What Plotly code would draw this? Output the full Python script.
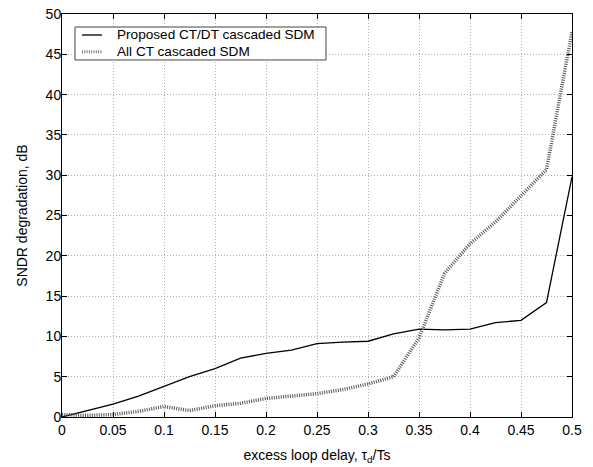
import plotly.graph_objects as go

x_delay = [0, 0.025, 0.05, 0.075, 0.1, 0.125, 0.15, 0.175, 0.2, 0.225, 0.25,
           0.275, 0.3, 0.325, 0.35, 0.375, 0.4, 0.425, 0.45, 0.475, 0.5]
proposed_ctdt = [0.0, 0.8, 1.6, 2.6, 3.85, 5.0, 6.0, 7.3, 7.9, 8.3, 9.1,
                 9.3, 9.4, 10.3, 10.9, 10.8, 10.9, 11.7, 12.0, 14.2, 29.8]
all_ct = [0.3, 0.2, 0.3, 0.7, 1.3, 0.8, 1.4, 1.7, 2.3, 2.6, 2.9,
          3.4, 4.1, 5.0, 9.8, 17.8, 21.5, 24.2, 27.4, 30.7, 47.8]
series_names = ["Proposed CT/DT cascaded SDM", "All CT cascaded SDM"]
x_ticks = [0, 0.05, 0.1, 0.15, 0.2, 0.25, 0.3, 0.35, 0.4, 0.45, 0.5]
x_tick_labels = ["0", "0.05", "0.1", "0.15", "0.2", "0.25", "0.3", "0.35", "0.4", "0.45", "0.5"]
y_ticks = [0, 5, 10, 15, 20, 25, 30, 35, 40, 45, 50]

FONT = "Liberation Sans, Arial, sans-serif"
solid_style = dict(color="black", width=1.3)
dotted_style = dict(color="#555555", width=3.5, dash="1px,1.3px")

fig = go.Figure()
fig.add_trace(go.Scatter(x=x_delay, y=proposed_ctdt, mode="lines",
                         name=series_names[0], line=solid_style, showlegend=False))
fig.add_trace(go.Scatter(x=x_delay, y=all_ct, mode="lines",
                         name=series_names[1], line=dotted_style, showlegend=False))

axis_common = dict(showline=True, linecolor="black", linewidth=1, mirror="ticks",
                   ticks="inside", ticklen=5, tickcolor="black", automargin=False,
                   ticklabeloverflow="allow",
                   showgrid=True, gridcolor="#b0b0b0", griddash="1px,2px", gridwidth=1,
                   zeroline=False, tickfont=dict(family=FONT, size=14, color="black"))

fig.update_xaxes(range=[0, 0.5], tickvals=x_ticks, ticktext=x_tick_labels,
                 title=dict(text="excess loop delay, τ<sub>d</sub>/Ts",
                            font=dict(family=FONT, size=14, color="black"), standoff=13),
                 **axis_common)
fig.update_yaxes(range=[0, 50], tickvals=y_ticks, ticklabelstandoff=-3,
                 title=dict(text="SNDR degradation, dB",
                            font=dict(family=FONT, size=14, color="black"), standoff=14),
                 **axis_common)

# legend box drawn in paper coordinates (MATLAB-style legend)
box = dict(x0=0.0255, x1=0.5176, y0=0.8859, y1=0.9677)
rows_y = [0.9479, 0.9065]
sample_x = (0.0392, 0.0784)
text_x = 0.1039
shapes = [dict(type="rect", xref="paper", yref="paper", **box,
               line=dict(color="#444444", width=1), fillcolor="white", layer="above")]
legend_styles = [solid_style, dict(color="#777777", width=3, dash="1px,1.3px")]
annotations = []
for name, yy, st in zip(series_names, rows_y, legend_styles):
    shapes.append(dict(type="line", xref="paper", yref="paper",
                       x0=sample_x[0], x1=sample_x[1], y0=yy, y1=yy,
                       line=st, layer="above"))
    annotations.append(dict(text=name, xref="paper", yref="paper", x=text_x, y=yy,
                            xanchor="left", yanchor="middle", showarrow=False,
                            font=dict(family=FONT, size=13.6, color="black")))

# page body has an 8px default margin, so the figure is sized to the window minus that
fig.update_layout(
    width=585, height=459,
    margin=dict(l=54, r=21, t=6, b=50, autoexpand=False),
    paper_bgcolor="white", plot_bgcolor="white",
    showlegend=False,
    shapes=shapes, annotations=annotations,
)

fig.write_html("out.html")
